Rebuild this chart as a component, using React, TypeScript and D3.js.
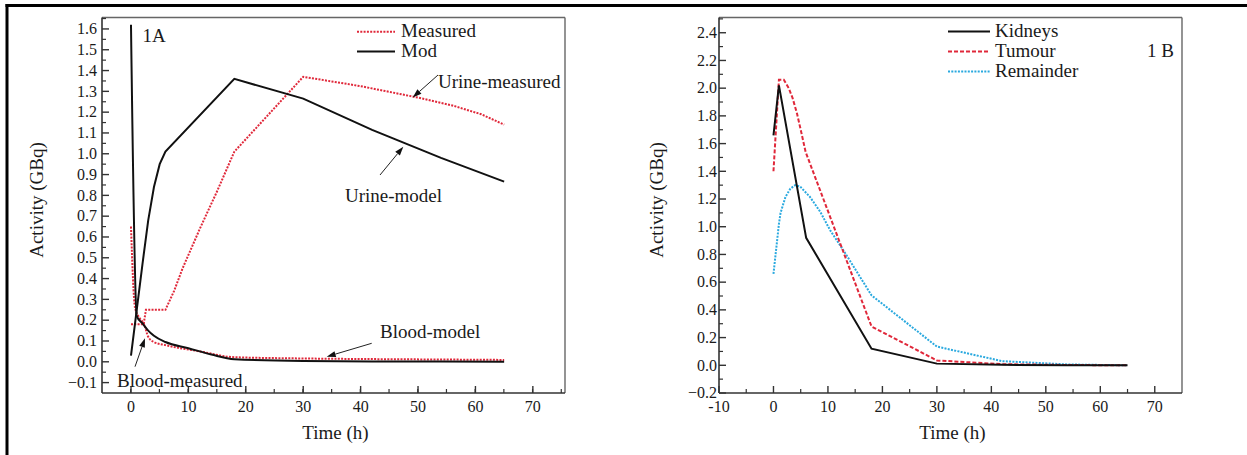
import React from "react";
import * as d3 from "d3";

// ---------- DATA ----------
const leftXTicks = [0, 10, 20, 30, 40, 50, 60, 70];
const leftYTicks = [-0.1, 0.0, 0.1, 0.2, 0.3, 0.4, 0.5, 0.6, 0.7, 0.8, 0.9, 1.0, 1.1, 1.2, 1.3, 1.4, 1.5, 1.6];
const rightXTicks = [-10, 0, 10, 20, 30, 40, 50, 60, 70];
const rightYTicks = [-0.2, 0.0, 0.2, 0.4, 0.6, 0.8, 1.0, 1.2, 1.4, 1.6, 1.8, 2.0, 2.2, 2.4];

// Panel 1A — model (black solid)
const bloodModelT = [0, 1, 2, 3, 4, 6, 10, 14, 18, 30, 42, 54, 65];
const bloodModelV = [1.62, 0.22, 0.185, 0.15, 0.125, 0.095, 0.065, 0.035, 0.012, 0.004, 0.002, 0.001, 0.0];
const urineModelT = [0, 1, 2, 3, 4, 5, 6, 18, 30, 42, 54, 65];
const urineModelV = [0.03, 0.25, 0.47, 0.68, 0.84, 0.95, 1.01, 1.36, 1.265, 1.115, 0.98, 0.866];
// Panel 1A — measured (red dotted)
const bloodMeasT = [0, 0.7, 1.5, 2.3, 3, 4, 6, 12, 18, 30, 42, 54, 65];
const bloodMeasV = [0.65, 0.26, 0.21, 0.18, 0.12, 0.095, 0.08, 0.05, 0.022, 0.016, 0.013, 0.011, 0.009];
const urineMeasT = [0, 2.2, 2.6, 6, 7.5, 9, 12, 15, 18, 30, 40, 50, 56, 61, 65];
const urineMeasV = [0.18, 0.18, 0.25, 0.25, 0.34, 0.45, 0.64, 0.82, 1.01, 1.37, 1.325, 1.27, 1.232, 1.19, 1.14];

// Panel 1B
const kidneysT = [0, 1, 6, 18, 30, 42, 54, 65];
const kidneysV = [1.66, 2.02, 0.92, 0.12, 0.012, 0.003, 0.001, 0.0];
const tumourT = [0, 1, 1.9, 2.8, 3.5, 4.3, 5, 5.9, 18, 30, 42, 54, 65];
const tumourV = [1.4, 2.06, 2.06, 2.0, 1.93, 1.82, 1.7, 1.54, 0.28, 0.035, 0.008, 0.002, 0.0];
const remainderT = [0, 1, 1.3, 2.2, 3.1, 4, 4.9, 6.7, 8.6, 10.4, 13, 18, 30, 42, 54, 65];
const remainderV = [0.66, 1.02, 1.1, 1.215, 1.275, 1.3, 1.29, 1.215, 1.107, 0.975, 0.82, 0.505, 0.135, 0.03, 0.006, 0.0];

// ---------- STYLE ----------
const FONT = "'Liberation Serif', 'Times New Roman', serif";
const RED = "#e0283a";
const CYAN = "#2aa9df";
const BLACK = "#111";
const TXT = "#1a1a1a";

const zip = (t: number[], v: number[]) => t.map((x, i) => [x, v[i]] as [number, number]);

type Panel = {
  left: number; right: number; top: number; bottom: number;
  xd: [number, number]; yd: [number, number];
  xt: number[]; yt: number[]; xMinorStep: number; yMinorStep: number;
  yFmt: (v: number) => string;
};

function Axes({ p, x, y, labelX, titleX }: { p: Panel; x: any; y: any; labelX: number; titleX: number }) {
  const xMinor = d3.range(p.xd[0], p.xd[1] + 1e-9, p.xMinorStep).filter(v => !p.xt.some(t => Math.abs(t - v) < 1e-6) && x(v) > p.left + 1 && x(v) < p.right - 1);
  const yStart = Math.ceil(p.yd[0] / p.yMinorStep - 1e-9) * p.yMinorStep;
  const yMinor = d3.range(yStart, p.yd[1] + 1e-9, p.yMinorStep).filter(v => !p.yt.some(t => Math.abs(t - v) < 1e-6) && y(v) < p.bottom - 1 && y(v) > p.top + 1);
  return (
    <g>
      <line x1={p.left} x2={p.right} y1={p.top} y2={p.top} stroke="#666" strokeWidth={1.4} />
      <line x1={p.right} x2={p.right} y1={p.top} y2={p.bottom} stroke="#666" strokeWidth={1.4} />
      <line x1={p.left} x2={p.right} y1={p.bottom} y2={p.bottom} stroke="#333" strokeWidth={1.6} />
      <line x1={p.left} x2={p.left} y1={p.top} y2={p.bottom} stroke="#333" strokeWidth={1.6} />
      {p.xt.map(t => (
        <g key={"xt" + t}>
          <line x1={x(t)} x2={x(t)} y1={p.bottom} y2={p.bottom - 7} stroke="#333" strokeWidth={1.4} />
          <text x={x(t)} y={412} textAnchor="middle" fontFamily={FONT} fontSize={16} fill={TXT}>{t}</text>
        </g>
      ))}
      {xMinor.map(t => (
        <line key={"xm" + t} x1={x(t)} x2={x(t)} y1={p.bottom} y2={p.bottom - 4} stroke="#333" strokeWidth={1.2} />
      ))}
      {p.yt.map(t => (
        <g key={"yt" + t}>
          <line x1={p.left} x2={p.left + 7} y1={y(t)} y2={y(t)} stroke="#333" strokeWidth={1.4} />
          <text x={labelX} y={y(t)} dy="0.33em" textAnchor="end" fontFamily={FONT} fontSize={16} fill={TXT}>{p.yFmt(t)}</text>
        </g>
      ))}
      {yMinor.map(t => (
        <line key={"ym" + t} x1={p.left} x2={p.left + 4} y1={y(t)} y2={y(t)} stroke="#333" strokeWidth={1.2} />
      ))}
      <text x={(p.left + p.right) / 2 + 2} y={439} textAnchor="middle" fontFamily={FONT} fontSize={19} fill={TXT}>Time (h)</text>
      <text transform={`translate(${titleX},${200}) rotate(-90)`} textAnchor="middle" dy="0.35em" fontFamily={FONT} fontSize={19} fill={TXT}>Activity (GBq)</text>
    </g>
  );
}

function Arrow({ x1, y1, x2, y2 }: { x1: number; y1: number; x2: number; y2: number }) {
  const a = Math.atan2(y2 - y1, x2 - x1);
  const L = 9, Wd = 3;
  const bx = x2 - L * Math.cos(a), by = y2 - L * Math.sin(a);
  const px = -Math.sin(a) * Wd, py = Math.cos(a) * Wd;
  return (
    <g>
      <line x1={x1} y1={y1} x2={bx} y2={by} stroke="#222" strokeWidth={1} />
      <path d={`M${x2},${y2}L${bx + px},${by + py}L${bx - px},${by - py}Z`} fill="#111" />
    </g>
  );
}

export default function App() {
  const W = 1247, H = 455;
  const pA: Panel = {
    left: 102, right: 565, top: 17.5, bottom: 393,
    xd: [-5.05, 75.6], yd: [-0.15, 1.655],
    xt: leftXTicks, yt: leftYTicks, xMinorStep: 5, yMinorStep: 0.05,
    yFmt: v => d3.format(".1f")(v),
  };
  const pB: Panel = {
    left: 719, right: 1182, top: 17.5, bottom: 393,
    xd: [-10, 75], yd: [-0.2, 2.51],
    xt: rightXTicks, yt: rightYTicks, xMinorStep: 5, yMinorStep: 0.1,
    yFmt: v => d3.format(".1f")(v),
  };
  const xA = d3.scaleLinear().domain(pA.xd).range([pA.left, pA.right]);
  const yA = d3.scaleLinear().domain(pA.yd).range([pA.bottom, pA.top]);
  const xB = d3.scaleLinear().domain(pB.xd).range([pB.left, pB.right]);
  const yB = d3.scaleLinear().domain(pB.yd).range([pB.bottom, pB.top]);

  const lineA = d3.line<[number, number]>().x(d => xA(d[0])).y(d => yA(d[1])).curve(d3.curveMonotoneX);
  const lineAlin = d3.line<[number, number]>().x(d => xA(d[0])).y(d => yA(d[1]));
  const lineBlin = d3.line<[number, number]>().x(d => xB(d[0])).y(d => yB(d[1]));

  const dotted = "2,1.3";

  return (
    <svg width={W} height={H} style={{ position: "absolute", left: 0, top: 0, background: "#fff" }}>
      <rect x={0} y={0} width={W} height={H} fill="#fff" />
      <line x1={5.5} x2={W} y1={5.5} y2={5.5} stroke="#000" strokeWidth={3} />
      <line x1={7} x2={7} y1={4} y2={H} stroke="#000" strokeWidth={3} />

      <defs>
        <clipPath id="clipA"><rect x={pA.left} y={pA.top} width={pA.right - pA.left} height={pA.bottom - pA.top} /></clipPath>
        <clipPath id="clipB"><rect x={pB.left} y={pB.top} width={pB.right - pB.left} height={pB.bottom - pB.top} /></clipPath>
      </defs>

      {/* ---------- Panel 1A ---------- */}
      <Axes p={pA} x={xA} y={yA} labelX={97} titleX={36} />
      <g clipPath="url(#clipA)" fill="none">
        <path d={lineAlin(zip(urineMeasT, urineMeasV)) || ""} stroke={RED} strokeWidth={2} strokeDasharray={dotted} />
        <path d={lineA(zip(bloodMeasT, bloodMeasV)) || ""} stroke={RED} strokeWidth={2} strokeDasharray={dotted} />
        <path d={lineAlin(zip(urineModelT, urineModelV)) || ""} stroke={BLACK} strokeWidth={2} />
        <path d={lineA(zip(bloodModelT, bloodModelV)) || ""} stroke={BLACK} strokeWidth={2} />
      </g>
      <text x={142.5} y={41.5} fontFamily={FONT} fontSize={19} fill={TXT}>1A</text>
      <line x1={357} x2={395} y1={31.7} y2={31.7} stroke={RED} strokeWidth={2} strokeDasharray={dotted} />
      <text x={401} y={36.7} fontFamily={FONT} fontSize={19} fill={TXT}>Measured</text>
      <line x1={357} x2={395} y1={51.5} y2={51.5} stroke={BLACK} strokeWidth={2} />
      <text x={401} y={56.7} fontFamily={FONT} fontSize={19} fill={TXT}>Mod</text>
      <text x={438} y={88.3} fontFamily={FONT} fontSize={19} fill={TXT}>Urine-measured</text>
      <Arrow x1={438} y1={75} x2={412.7} y2={97.5} />
      <text x={345} y={201.7} fontFamily={FONT} fontSize={19} fill={TXT}>Urine-model</text>
      <Arrow x1={380} y1={175} x2={403.3} y2={146.7} />
      <text x={380} y={338} fontFamily={FONT} fontSize={19} fill={TXT}>Blood-model</text>
      <Arrow x1={371.7} y1={343.3} x2={326.7} y2={356.7} />
      <text x={117} y={386.7} fontFamily={FONT} fontSize={19} fill={TXT}>Blood-measured</text>
      <Arrow x1={135} y1={366.7} x2={145} y2={338.3} />

      {/* ---------- Panel 1B ---------- */}
      <Axes p={pB} x={xB} y={yB} labelX={717} titleX={656} />
      <g clipPath="url(#clipB)" fill="none">
        <path d={lineBlin(zip(remainderT, remainderV)) || ""} stroke={CYAN} strokeWidth={2} strokeDasharray={dotted} />
        <path d={lineBlin(zip(tumourT, tumourV)) || ""} stroke={RED} strokeWidth={2} strokeDasharray="4,2" />
        <path d={lineBlin(zip(kidneysT, kidneysV)) || ""} stroke={BLACK} strokeWidth={2} />
      </g>
      <line x1={948} x2={990} y1={31.5} y2={31.5} stroke={BLACK} strokeWidth={2} />
      <text x={995} y={36.7} fontFamily={FONT} fontSize={19} fill={TXT}>Kidneys</text>
      <line x1={948} x2={990} y1={51.5} y2={51.5} stroke={RED} strokeWidth={2} strokeDasharray="4,2" />
      <text x={995} y={56.7} fontFamily={FONT} fontSize={19} fill={TXT}>Tumour</text>
      <line x1={948} x2={990} y1={71.5} y2={71.5} stroke={CYAN} strokeWidth={2} strokeDasharray={dotted} />
      <text x={995} y={76.7} fontFamily={FONT} fontSize={19} fill={TXT}>Remainder</text>
      <text x={1147} y={56.7} fontFamily={FONT} fontSize={19} fill={TXT}>1 B</text>
    </svg>
  );
}
